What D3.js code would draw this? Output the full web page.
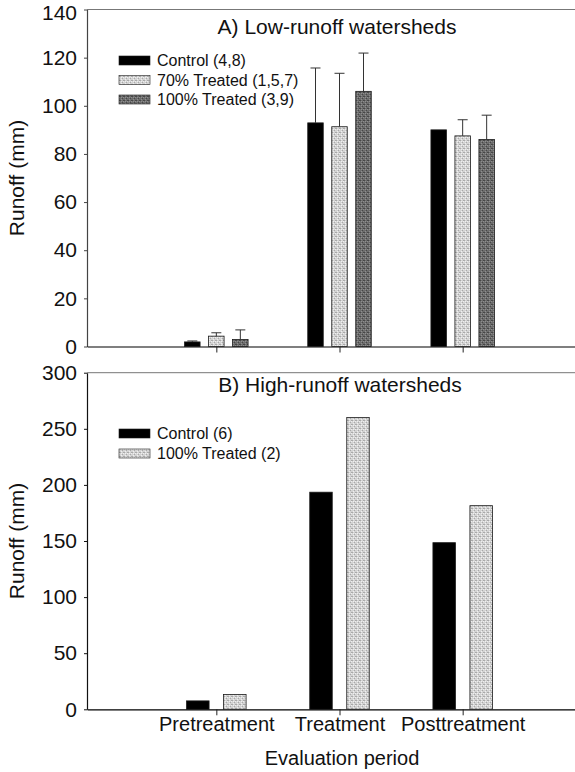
<!DOCTYPE html>
<html>
<head>
<meta charset="utf-8">
<script src="https://cdn.jsdelivr.net/npm/d3@7"></script>
<style>
  html, body { margin: 0; padding: 0; background: #fff; }
  svg { display: block; font-family: "Liberation Sans", Arial, Helvetica, sans-serif; }
</style>
</head>
<body>
<svg id="chart" width="575" height="772"></svg>
<script>
// Evaluation periods (shared x categories)
const periods = ["Pretreatment", "Treatment", "Posttreatment"];

// Panel A: low-runoff watersheds (mean runoff, mm) and upper error (mm)
const lowSeries = ["Control (4,8)", "70% Treated (1,5,7)", "100% Treated (3,9)"];
const lowControl = [1.9, 92.9, 90.0];
const low70 = [4.3, 91.3, 87.5];
const low100 = [2.9, 106.0, 86.0];
const lowControlErr = [0.4, 22.8, 0];
const low70Err = [1.4, 22.2, 6.7];
const low100Err = [4.0, 15.9, 10.1];
const lowTicks = [0, 20, 40, 60, 80, 100, 120, 140];

// Panel B: high-runoff watersheds (mean runoff, mm)
const highSeries = ["Control (6)", "100% Treated (2)"];
const highControl = [7.5, 193.5, 148.5];
const high100 = [13.2, 260.0, 181.5];
const highTicks = [0, 50, 100, 150, 200, 250, 300];

const svg = d3.select("#chart");
const W = 575;

// Stippled fills for the treated bars
const defs = svg.append("defs");
function stipple(id, base, darkDot, lightDot) {
  const p = defs.append("pattern").attr("id", id)
    .attr("patternUnits", "userSpaceOnUse").attr("width", 4).attr("height", 4);
  p.append("rect").attr("width", 4).attr("height", 4).attr("fill", base);
  [[0, 0], [2, 2], [3, 0]].forEach(([x, y]) =>
    p.append("rect").attr("x", x).attr("y", y).attr("width", 1).attr("height", 1).attr("fill", darkDot));
  [[1, 3], [3, 1], [1, 1]].forEach(([x, y]) =>
    p.append("rect").attr("x", x).attr("y", y).attr("width", 1).attr("height", 1).attr("fill", lightDot));
}
stipple("lightStip", "#d3d3d3", "#a9a9a9", "#efefef");
stipple("darkStip", "#6c6c6c", "#474747", "#8e8e8e");

const fills = {
  control: "#000",
  light: "url(#lightStip)",
  dark: "url(#darkStip)"
};

const x = d3.scalePoint().domain(periods).range([87, 592]).padding(1.05);

function drawPanel(cfg) {
  const g = svg.append("g");
  const y = d3.scaleLinear().domain([0, cfg.max]).range([cfg.bottom, cfg.top]);

  // frame top line
  g.append("line").attr("x1", 87).attr("x2", W + 5)
    .attr("y1", cfg.top).attr("y2", cfg.top)
    .attr("stroke", "#777").attr("stroke-width", 1);

  // y axis
  const ya = g.append("g").attr("transform", "translate(87,0)")
    .call(d3.axisLeft(y).tickValues(cfg.ticks).tickSize(3).tickPadding(7).tickSizeOuter(0));
  ya.select(".domain").attr("stroke", cfg.axisColor).attr("stroke-width", 1.2);
  ya.selectAll(".tick line").attr("stroke", cfg.axisColor);
  ya.selectAll("text").attr("font-size", 21).attr("fill", "#111").attr("font-family", null);
  // keep the topmost label inside the page
  ya.selectAll(".tick text").filter(d => d === cfg.max).attr("y", cfg.topLabelShift);

  // x axis
  const xa = g.append("g").attr("transform", `translate(0,${cfg.bottom})`)
    .call(d3.axisBottom(x).tickSize(6).tickSizeOuter(0).tickPadding(2)
      .tickFormat(cfg.xLabels ? d => d : () => ""));
  xa.select(".domain").attr("stroke", "#000").attr("stroke-width", 1.2);
  xa.selectAll(".tick line").attr("stroke", "#222");
  xa.selectAll("text").attr("font-size", 20).attr("fill", "#111").attr("font-family", null);

  // bars
  const inner = d3.scalePoint().domain(cfg.series.map(s => s.name)).range(cfg.innerRange);
  cfg.series.forEach(s => {
    const gs = g.append("g");
    gs.selectAll("rect").data(s.values).join("rect")
      .attr("x", (d, i) => x(periods[i]) + inner(s.name) - cfg.barW / 2)
      .attr("y", d => y(d))
      .attr("width", cfg.barW)
      .attr("height", d => y(0) - y(d))
      .attr("fill", s.fill)
      .attr("stroke", "#1a1a1a").attr("stroke-width", 0.8);
    if (s.err) {
      s.values.forEach((v, i) => {
        if (!s.err[i]) return;
        const cx = x(periods[i]) + inner(s.name);
        gs.append("line").attr("x1", cx).attr("x2", cx)
          .attr("y1", y(v)).attr("y2", y(v + s.err[i]))
          .attr("stroke", "#333").attr("stroke-width", 1);
        gs.append("line").attr("x1", cx - 5).attr("x2", cx + 5)
          .attr("y1", y(v + s.err[i])).attr("y2", y(v + s.err[i]))
          .attr("stroke", "#333").attr("stroke-width", 1);
      });
    }
  });

  // panel title
  g.append("text").attr("x", cfg.titleX).attr("y", cfg.titleY)
    .attr("text-anchor", "middle").attr("font-size", 21).attr("fill", "#111")
    .text(cfg.title);

  // legend
  cfg.series.forEach((s, i) => {
    const cy = cfg.legendY + i * cfg.legendStep;
    g.append("rect").attr("x", 119).attr("y", cy - 4.5).attr("width", 31).attr("height", 9)
      .attr("fill", s.fill).attr("stroke", "#1a1a1a").attr("stroke-width", 0.6);
    g.append("text").attr("x", 157).attr("y", cy).attr("dy", "0.36em")
      .attr("font-size", 16).attr("fill", "#111").text(s.name);
  });

  // y axis title
  g.append("text")
    .attr("transform", `translate(24,${(cfg.top + cfg.bottom) / 2}) rotate(-90)`)
    .attr("text-anchor", "middle").attr("font-size", 21).attr("fill", "#111")
    .text("Runoff (mm)");
}

drawPanel({
  top: 9.5, bottom: 346.5, max: 140, ticks: lowTicks, xLabels: false,
  axisColor: "#444", topLabelShift: 3.5,
  title: "A) Low-runoff watersheds", titleX: 337, titleY: 34,
  legendY: 60.5, legendStep: 19.5,
  barW: 15.5, innerRange: [-24, 24],
  series: [
    { name: lowSeries[0], values: lowControl, err: lowControlErr, fill: fills.control },
    { name: lowSeries[1], values: low70, err: low70Err, fill: fills.light },
    { name: lowSeries[2], values: low100, err: low100Err, fill: fills.dark }
  ]
});

drawPanel({
  top: 372.7, bottom: 709.3, max: 300, ticks: highTicks, xLabels: true,
  axisColor: "#111", topLabelShift: 0,
  title: "B) High-runoff watersheds", titleX: 340, titleY: 392,
  legendY: 433.5, legendStep: 20,
  barW: 22.5, innerRange: [-18.5, 18.5],
  series: [
    { name: highSeries[0], values: highControl, fill: fills.control },
    { name: highSeries[1], values: high100, fill: fills.light }
  ]
});

// shared x axis title
svg.append("text").attr("x", 342).attr("y", 765)
  .attr("text-anchor", "middle").attr("font-size", 20).attr("fill", "#111")
  .text("Evaluation period");
</script>
</body>
</html>
